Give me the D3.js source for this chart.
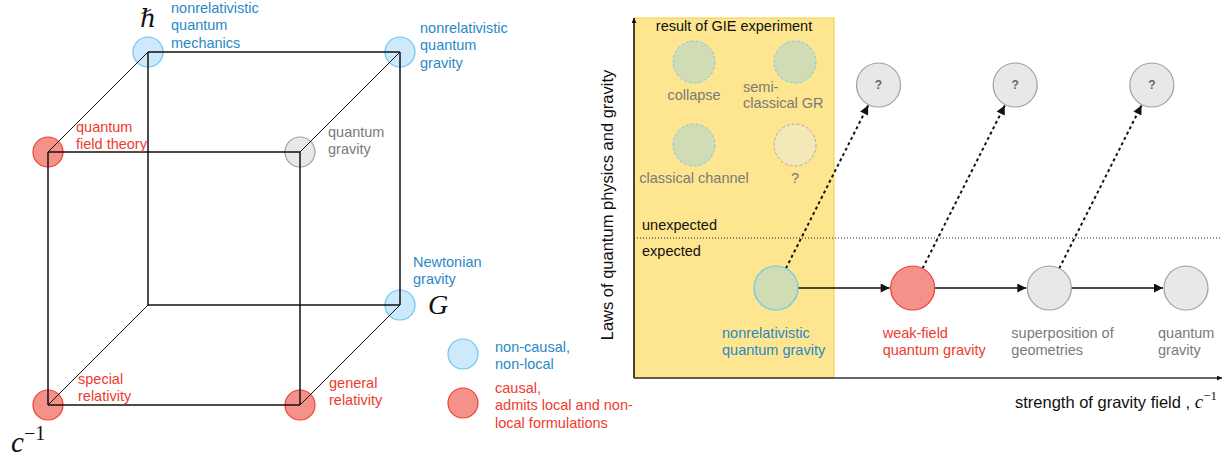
<!DOCTYPE html>
<html>
<head>
<meta charset="utf-8">
<script src="https://cdn.jsdelivr.net/npm/d3@7"></script>
<style>
	body { margin: 0; background: #fff; }
	svg { display: block; font-family: "Liberation Sans", Arial, sans-serif; }
</style>
</head>
<body>
<div id="vizHolder"></div>
<script>
// ---- cube of theories: corners given as [hbar, G, 1/c] switched on/off
var cubeCorners = [[1,0,0],[0,1,0],[0,0,1],[1,1,0],[1,0,1],[0,1,1],[1,1,1]];
var cubeLabels = [
	['nonrelativistic','quantum','mechanics'],
	['Newtonian','gravity'],
	['special','relativity'],
	['nonrelativistic','quantum','gravity'],
	['quantum','field theory'],
	['general','relativity'],
	['quantum','gravity']
];
var cubeKinds = ['noncausal','noncausal','causal','noncausal','causal','causal','open'];
var legendKinds = ['noncausal','causal'];
var legendLabels = [['non-causal,','non-local'],['causal,','admits local and non-','local formulations']];

// ---- right diagram
var stages = ['nonrelativistic quantum gravity','weak-field quantum gravity','superposition of geometries','quantum gravity'];
var stageLabels = [['nonrelativistic','quantum gravity'],['weak-field','quantum gravity'],['superposition of','geometries'],['quantum','gravity']];
var stageKinds = ['nonrel','causal','open','open'];
var branchFrom = [0,1,2];
var gieOutcomes = ['collapse','semi-classical GR','classical channel','?'];
var gieLabels = [['collapse'],['semi-','classical GR'],['classical channel'],['?']];
var gieCells = [[0,0],[1,0],[0,1],[1,1]];
var gieKnown = [true,true,true,false];
var regimes = ['unexpected','expected'];

var width = 1227, height = 459;

var fills = { noncausal: '#cde9fb', causal: '#f4928a', open: '#e8e8e8', nonrel: '#d0ddb4' };
var strokes = { noncausal: '#6cc4f3', causal: '#ee3f34', open: '#a0a0a0', nonrel: '#6cc4f3' };
var textCol = { noncausal: '#2a88c8', causal: '#ee3b2f', open: '#7a7a7a', nonrel: '#2a88c8' };

var svg = d3.select('#vizHolder').append('svg')
	.attr('width', width)
	.attr('height', height);

var defs = svg.append('defs');
defs.append('marker')
	.attr('id', 'head')
	.attr('viewBox', '0 0 10 10')
	.attr('refX', 10).attr('refY', 5)
	.attr('markerWidth', 10).attr('markerHeight', 9)
	.attr('markerUnits', 'userSpaceOnUse')
	.attr('orient', 'auto')
	.append('path').attr('d', 'M0,0L10,5L0,10z').attr('fill', '#111');
defs.append('marker')
	.attr('id', 'smallhead')
	.attr('viewBox', '0 0 10 10')
	.attr('refX', 10).attr('refY', 5)
	.attr('markerWidth', 6).attr('markerHeight', 5)
	.attr('markerUnits', 'userSpaceOnUse')
	.attr('orient', 'auto')
	.append('path').attr('d', 'M0,0L10,5L0,10z').attr('fill', '#111');

function multiline(g, lines, x, y, opts) {
	var t = g.append('text')
		.attr('x', x).attr('y', y)
		.attr('fill', opts.fill)
		.attr('font-size', opts.size || 14.5)
		.attr('text-anchor', opts.anchor || 'start');
	lines.forEach(function(l, i) {
		t.append('tspan').attr('x', x).attr('y', y + i * (opts.lh || 17.3)).text(l);
	});
	return t;
}

//=== Cube (oblique projection)
var gX = d3.scaleLinear().domain([0, 1]).range([148, 400]);
var hY = d3.scaleLinear().domain([0, 1]).range([305, 52]);
var cDX = d3.scaleLinear().domain([0, 1]).range([0, -100]);
var cDY = d3.scaleLinear().domain([0, 1]).range([0, 100]);
function proj(p) { return [gX(p[1]) + cDX(p[2]), hY(p[0]) + cDY(p[2])]; }

var cube = svg.append('g').attr('id', 'cube');
var allCorners = [];
[0,1].forEach(function(h){ [0,1].forEach(function(g){ [0,1].forEach(function(c){ allCorners.push([h,g,c]); }); }); });
var edges = [];
allCorners.forEach(function(a) {
	allCorners.forEach(function(b) {
		var diff = [0,1,2].filter(function(k){ return a[k] !== b[k]; });
		if (diff.length === 1 && a[diff[0]] === 0) edges.push({ a: a, b: b, axis: diff[0] });
	});
});

// label offsets relative to each corner (dx, dy of first baseline)
var cubeLabelPos = [[23,-39],[13,-38],[30,-21],[20,-19],[28,-20],[29,-17],[28,-15]];

cube.selectAll('circle.node')
	.data(cubeCorners)
	.enter().append('circle')
	.attr('class', 'node')
	.attr('cx', function(d){ return proj(d)[0]; })
	.attr('cy', function(d){ return proj(d)[1]; })
	.attr('r', 15)
	.attr('fill', function(d, i){ return fills[cubeKinds[i]]; })
	.attr('stroke', function(d, i){ return strokes[cubeKinds[i]]; })
	.attr('stroke-width', 1.2);

// edges meet in the circle centres, drawn over the circles
cube.selectAll('line.edge')
	.data(edges)
	.enter().append('line')
	.attr('class', 'edge')
	.attr('x1', function(d){ return proj(d.a)[0]; })
	.attr('y1', function(d){ return proj(d.a)[1]; })
	.attr('x2', function(d){ return proj(d.b)[0]; })
	.attr('y2', function(d){ return proj(d.b)[1]; })
	.attr('stroke', '#111')
	.attr('stroke-width', function(d){ return d.axis === 2 ? 1 : 1.5; });

cubeCorners.forEach(function(d, i) {
	var p = proj(d);
	multiline(cube, cubeLabels[i], p[0] + cubeLabelPos[i][0], p[1] + cubeLabelPos[i][1],
		{ fill: textCol[cubeKinds[i]] });
});

// axis symbols
var serif = '"Liberation Serif", "DejaVu Serif", serif';
cube.append('text')
	.attr('x', proj([1,0,0])[0]).attr('y', 27)
	.attr('text-anchor', 'middle')
	.attr('font-family', serif).attr('font-style', 'italic')
	.attr('font-size', 25).attr('fill', '#111')
	.text('\u210F');
cube.append('text')
	.attr('x', 428).attr('y', 314)
	.attr('font-family', serif).attr('font-style', 'italic')
	.attr('font-size', 28).attr('fill', '#111')
	.text('G');
var cInv = cube.append('text')
	.attr('x', 11).attr('y', 452)
	.attr('font-family', serif).attr('fill', '#111');
cInv.append('tspan').attr('font-style', 'italic').attr('font-size', 29).text('c');
cInv.append('tspan').attr('font-size', 20).attr('dy', -12).text('\u22121');

// legend
var legend = svg.append('g').attr('id', 'legend');
var legY = d3.scalePoint().domain(legendKinds).range([354, 403]);
legendKinds.forEach(function(k, i) {
	legend.append('circle')
		.attr('cx', 463).attr('cy', legY(k)).attr('r', 15)
		.attr('fill', fills[k]).attr('stroke', strokes[k]).attr('stroke-width', 1.2);
	multiline(legend, legendLabels[i], 495, legY(k) - 2 - (i === 1 ? 8 : 0), { fill: textCol[k] });
});

//=== Right diagram
var plotL = 634, plotR = 1222, plotT = 18, plotB = 378, boxR = 834;
var sx = d3.scaleLinear().domain([0, stages.length - 1]).range([776, 1186]);
var ry = d3.scaleLinear().domain([0, 1]).range([288, 85]); // 0 expected, 1 unexpected
var R = 22;

var gie = svg.append('g').attr('id', 'gie');

gie.append('rect')
	.attr('x', plotL).attr('y', plotT)
	.attr('width', boxR - plotL).attr('height', plotB - plotT)
	.attr('fill', '#fde68f')
	.attr('stroke', '#f3cf45').attr('stroke-width', 1);

gie.append('text')
	.attr('x', 734).attr('y', 31)
	.attr('text-anchor', 'middle')
	.attr('font-size', 14.5).attr('fill', '#111')
	.text('result of GIE experiment');

var gcol = d3.scalePoint().domain([0, 1]).range([694, 795]);
var grow = d3.scalePoint().domain([0, 1]).range([62, 145]);
var gieLabelPos = [[0,38,'middle'],[-52,30,'start'],[0,38,'middle'],[0,38,'middle']];
gieCells.forEach(function(c, i) {
	var cx = gcol(c[0]), cy = grow(c[1]);
	gie.append('circle')
		.attr('cx', cx).attr('cy', cy).attr('r', 21)
		.attr('fill', gieKnown[i] ? '#d0ddb4' : '#f4e8b8')
		.attr('stroke', gieKnown[i] ? '#7cc6f0' : '#a8a8a8')
		.attr('stroke-dasharray', '3,2')
		.attr('stroke-width', 1);
	multiline(gie, gieLabels[i], cx + gieLabelPos[i][0], cy + gieLabelPos[i][1],
		{ fill: '#7a7a7a', anchor: gieLabelPos[i][2], lh: 16 });
});

// regime divider
gie.append('line')
	.attr('x1', plotL).attr('x2', plotR)
	.attr('y1', 238).attr('y2', 238)
	.attr('stroke', '#222').attr('stroke-width', 1)
	.attr('stroke-dasharray', '1,2');
regimes.forEach(function(r, i) {
	gie.append('text')
		.attr('x', 642).attr('y', i === 0 ? 230 : 256)
		.attr('font-size', 14.5).attr('fill', '#111')
		.text(r);
});

// axes
gie.append('line')
	.attr('x1', plotL).attr('y1', plotB).attr('x2', plotL).attr('y2', plotT)
	.attr('stroke', '#111').attr('stroke-width', 1.5)
	.attr('marker-end', 'url(#smallhead)');
gie.append('line')
	.attr('x1', plotL).attr('y1', plotB).attr('x2', plotR).attr('y2', plotB)
	.attr('stroke', '#333').attr('stroke-width', 1.5)
	.attr('marker-end', 'url(#smallhead)');

gie.append('text')
	.attr('transform', 'translate(613,205) rotate(-90)')
	.attr('text-anchor', 'middle')
	.attr('font-size', 16.5).attr('fill', '#111')
	.text('Laws of quantum physics and gravity');

var xl = gie.append('text')
	.attr('x', 1217).attr('y', 408)
	.attr('text-anchor', 'end')
	.attr('font-size', 16.5).attr('fill', '#111');
xl.append('tspan').text('strength of gravity field , ');
xl.append('tspan').attr('font-family', serif).attr('font-style', 'italic').attr('font-size', 19).text('c');
xl.append('tspan').attr('font-family', serif).attr('font-size', 13).attr('dy', -8).text('\u22121');

// dotted branches to unknown
branchFrom.forEach(function(i) {
	var x0 = sx(i), y0 = ry(0), x1 = sx(i + 0.75), y1 = ry(1);
	var dx = x1 - x0, dy = y1 - y0, len = Math.sqrt(dx * dx + dy * dy);
	var ux = dx / len, uy = dy / len;
	gie.append('line')
		.attr('x1', x0 + ux * R).attr('y1', y0 + uy * R)
		.attr('x2', x1 - ux * (R + 1)).attr('y2', y1 - uy * (R + 1))
		.attr('stroke', '#111').attr('stroke-width', 2)
		.attr('stroke-dasharray', '3,3')
		.attr('marker-end', 'url(#head)');
	gie.append('circle')
		.attr('cx', x1).attr('cy', y1).attr('r', R)
		.attr('fill', fills.open).attr('stroke', strokes.open).attr('stroke-width', 1.2);
	gie.append('text')
		.attr('x', x1).attr('y', y1 + 4)
		.attr('text-anchor', 'middle')
		.attr('font-size', 12).attr('font-weight', 'bold').attr('fill', '#666')
		.text('?');
});

// main chain
stages.forEach(function(s, i) {
	if (i < stages.length - 1) {
		gie.append('line')
			.attr('x1', sx(i) + R).attr('y1', ry(0))
			.attr('x2', sx(i + 1) - R - 1).attr('y2', ry(0))
			.attr('stroke', '#111').attr('stroke-width', 1.5)
			.attr('marker-end', 'url(#head)');
	}
});
var stageLabelDx = [-54, -30, -38, -28];
gie.selectAll('circle.stage')
	.data(stages)
	.enter().append('circle')
	.attr('class', 'stage')
	.attr('cx', function(d, i){ return sx(i); })
	.attr('cy', ry(0))
	.attr('r', R)
	.attr('fill', function(d, i){ return fills[stageKinds[i]]; })
	.attr('stroke', function(d, i){ return strokes[stageKinds[i]]; })
	.attr('stroke-width', 1.2);
stages.forEach(function(s, i) {
	multiline(gie, stageLabels[i], sx(i) + stageLabelDx[i], 338, { fill: textCol[stageKinds[i]] });
});
</script>
</body>
</html>
